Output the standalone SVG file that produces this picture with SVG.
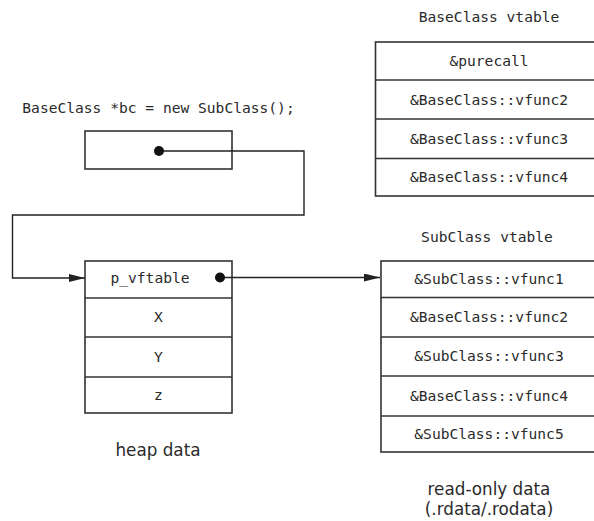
<svg xmlns="http://www.w3.org/2000/svg" width="594" height="521" viewBox="0 0 594 521">
<style>
.box{fill:#fff;stroke:#333;stroke-width:1.6}
.sep{stroke:#333;stroke-width:1.5}
.mono{font-family:"DejaVu Sans Mono","Liberation Mono",monospace;font-size:14.6px;fill:#2a2a2a;text-anchor:middle}
.sans{font-family:"DejaVu Sans","Liberation Sans",sans-serif;font-size:16.8px;fill:#2a2a2a;text-anchor:middle}
.conn{fill:none;stroke:#222;stroke-width:1.4}
.dot{fill:#111}
</style>
<defs>
<marker id="arr" markerWidth="16" markerHeight="8" refX="16" refY="4" orient="auto" markerUnits="userSpaceOnUse">
<path d="M0,0 L16,4 L0,8 Z" fill="#222"/>
</marker>
</defs>
<text class="mono" x="158.5" y="113">BaseClass *bc = new SubClass();</text>
<g id="ptr">
<rect class="box" x="85" y="131" width="147" height="38"/>
</g>
<g id="heap">
<rect class="box" x="85" y="261" width="147" height="152"/>
<line class="sep" x1="85" y1="298" x2="232" y2="298"/>
<line class="sep" x1="85" y1="337" x2="232" y2="337"/>
<line class="sep" x1="85" y1="377" x2="232" y2="377"/>
<text class="mono" x="150" y="283">p_vftable</text>
<text class="mono" x="158.5" y="322">X</text>
<text class="mono" x="158.5" y="362">Y</text>
<text class="mono" x="158.5" y="400">z</text>
<text class="sans" x="158" y="456">heap data</text>
</g>
<g id="basevtable">
<text class="mono" x="489" y="22">BaseClass vtable</text>
<rect class="box" x="375.5" y="42" width="240" height="154"/>
<line class="sep" x1="375.5" y1="80" x2="600" y2="80"/>
<line class="sep" x1="375.5" y1="119" x2="600" y2="119"/>
<line class="sep" x1="375.5" y1="158.5" x2="600" y2="158.5"/>
<text class="mono" x="489" y="66">&amp;purecall</text>
<text class="mono" x="489" y="104.5">&amp;BaseClass::vfunc2</text>
<text class="mono" x="489" y="144">&amp;BaseClass::vfunc3</text>
<text class="mono" x="489" y="182">&amp;BaseClass::vfunc4</text>
</g>
<g id="subvtable">
<text class="mono" x="487" y="242">SubClass vtable</text>
<rect class="box" x="381" y="261" width="240" height="191"/>
<line class="sep" x1="381" y1="297.5" x2="610" y2="297.5"/>
<line class="sep" x1="381" y1="337" x2="610" y2="337"/>
<line class="sep" x1="381" y1="376" x2="610" y2="376"/>
<line class="sep" x1="381" y1="416" x2="610" y2="416"/>
<text class="mono" x="489" y="284">&amp;SubClass::vfunc1</text>
<text class="mono" x="489" y="322">&amp;BaseClass::vfunc2</text>
<text class="mono" x="489" y="361">&amp;SubClass::vfunc3</text>
<text class="mono" x="489" y="401">&amp;BaseClass::vfunc4</text>
<text class="mono" x="489" y="439">&amp;SubClass::vfunc5</text>
<text class="sans" x="489" y="495">read-only data</text>
<text class="sans" x="489" y="515">(.rdata/.rodata)</text>
</g>
<g id="connectors">
<polyline class="conn" points="159,151 304,151 304,215 12.5,215 12.5,278 85,278" marker-end="url(#arr)"/>
<circle class="dot" cx="159" cy="151" r="5"/>
<line class="conn" x1="220" y1="277.5" x2="380" y2="277.5" marker-end="url(#arr)"/>
<circle class="dot" cx="220" cy="277.5" r="5"/>
</g>
</svg>
